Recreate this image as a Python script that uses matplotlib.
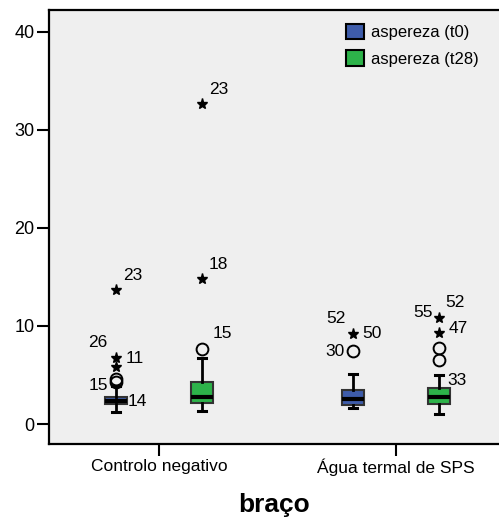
import matplotlib
matplotlib.use("Agg")
import matplotlib.pyplot as plt
from matplotlib.patches import Patch

plt.rcParams['font.family'] = ['Liberation Sans', 'DejaVu Sans']

groups = ['Controlo negativo', 'Água termal de SPS']
series = ['aspereza (t0)', 'aspereza (t28)']
colors = ['#3E5CAA', '#2DB34A']

# box statistics per series (one value per group)
whislo = {'t0': [1.26, 1.66], 't28': [1.36, 1.02]}
q1     = {'t0': [2.04, 1.91], 't28': [2.17, 2.07]}
med    = {'t0': [2.35, 2.52], 't28': [2.72, 2.79]}
q3     = {'t0': [2.79, 3.47], 't28': [4.32, 3.64]}
whishi = {'t0': [3.90, 5.10], 't28': [6.70, 4.97]}

# outliers (circles) and extremes (stars): (group index, value)
outliers = {'t0': [(0, 4.6), (0, 4.25), (1, 7.4)],
            't28': [(0, 7.65), (1, 7.72), (1, 6.53)]}
extremes = {'t0': [(0, 13.7), (0, 6.7), (0, 5.8), (1, 9.2)],
            't28': [(0, 32.7), (0, 14.8), (1, 10.8), (1, 9.3)]}

# case labels: (series, group, value, text, dx, dy, ha, va)
case_labels = [
    ('t0', 0, 13.7, '23', 5, 7, 'left', 'baseline'),
    ('t0', 0, 6.7, '26', -6, 8, 'right', 'baseline'),
    ('t0', 0, 6.7, '11', 7, 0, 'left', 'center'),
    ('t0', 0, 4.6, '15', -6, -5, 'right', 'center'),
    ('t0', 0, 2.3, '14', 8, 0, 'left', 'center'),
    ('t28', 0, 32.7, '23', 5, 7, 'left', 'baseline'),
    ('t28', 0, 14.8, '18', 5, 7, 'left', 'baseline'),
    ('t28', 0, 7.65, '15', 8, 8, 'left', 'baseline'),
    ('t0', 1, 9.2, '50', 7, 0, 'left', 'center'),
    ('t0', 1, 9.2, '52', -5, 8, 'right', 'baseline'),
    ('t0', 1, 7.4, '30', -6, 0, 'right', 'center'),
    ('t28', 1, 10.8, '55', -4, 4, 'right', 'center'),
    ('t28', 1, 10.8, '52', 5, 8, 'left', 'baseline'),
    ('t28', 1, 9.3, '47', 7, 3, 'left', 'center'),
    ('t28', 1, 4.97, '33', 6, -4, 'left', 'center'),
]

yticks = [0, 10, 20, 30, 40]

fig = plt.figure(figsize=(4.99, 5.22), dpi=100)
ax = fig.add_axes([49/499, 78/522, 450/499, 434/522])
ax.set_facecolor('#EFEFEF')

offset = {'t0': -0.181, 't28': 0.181}
width = 0.095
for key, col in zip(['t0', 't28'], colors):
    stats = []
    for g in range(len(groups)):
        stats.append(dict(whislo=whislo[key][g], q1=q1[key][g], med=med[key][g],
                          q3=q3[key][g], whishi=whishi[key][g], fliers=[]))
    pos = [g + offset[key] for g in range(len(groups))]
    ax.bxp(stats, positions=pos, widths=width, patch_artist=True, showfliers=False,
           boxprops=dict(facecolor=col, edgecolor='#333333', linewidth=1.5),
           medianprops=dict(color='black', linewidth=3),
           whiskerprops=dict(color='black', linewidth=2),
           capprops=dict(color='black', linewidth=2.2),
           capwidths=0.035, manage_ticks=False)
    ox = [g + offset[key] for g, v in outliers[key]]
    oy = [v for g, v in outliers[key]]
    ax.plot(ox, oy, linestyle='none', marker='o', markersize=8.5,
            markerfacecolor='none', markeredgecolor='black', markeredgewidth=1.4, zorder=4)
    ex = [g + offset[key] for g, v in extremes[key]]
    ey = [v for g, v in extremes[key]]
    ax.plot(ex, ey, linestyle='none', marker='*', markersize=8,
            color='black', zorder=4)

for key, g, v, txt, dx, dy, ha, va in case_labels:
    ax.annotate(txt, xy=(g + offset[key], v), xytext=(dx, dy), textcoords='offset points',
                ha=ha, va=va, fontsize=12.5, color='black')

ax.set_xlim(-0.464, 1.435)
ax.set_ylim(-2.04, 42.24)
ax.set_xticks(range(len(groups)))
ax.set_xticklabels(groups, fontsize=12.5)
ax.set_yticks(yticks)
ax.set_yticklabels([str(t) for t in yticks], fontsize=13)
ax.tick_params(axis='both', length=8.5, width=1.5, color='black', pad=2)
for s in ['left', 'top', 'bottom']:
    ax.spines[s].set_linewidth(1.6)
ax.spines['right'].set_visible(False)
ax.set_xlabel('braço', fontsize=19, fontweight='bold', labelpad=12)

handles = [Patch(facecolor=c, edgecolor='black', linewidth=1.5, label=l)
           for c, l in zip(colors, series)]
ax.legend(handles=handles, loc='upper left', bbox_to_anchor=((346 - 49) / 450, 1 - (24 - 10) / 434),
          frameon=False, fontsize=12, handlelength=1.1, handleheight=1.05,
          handletextpad=0.4, labelspacing=0.6, borderaxespad=0, borderpad=0)

fig.savefig('out.png', dpi=100)
